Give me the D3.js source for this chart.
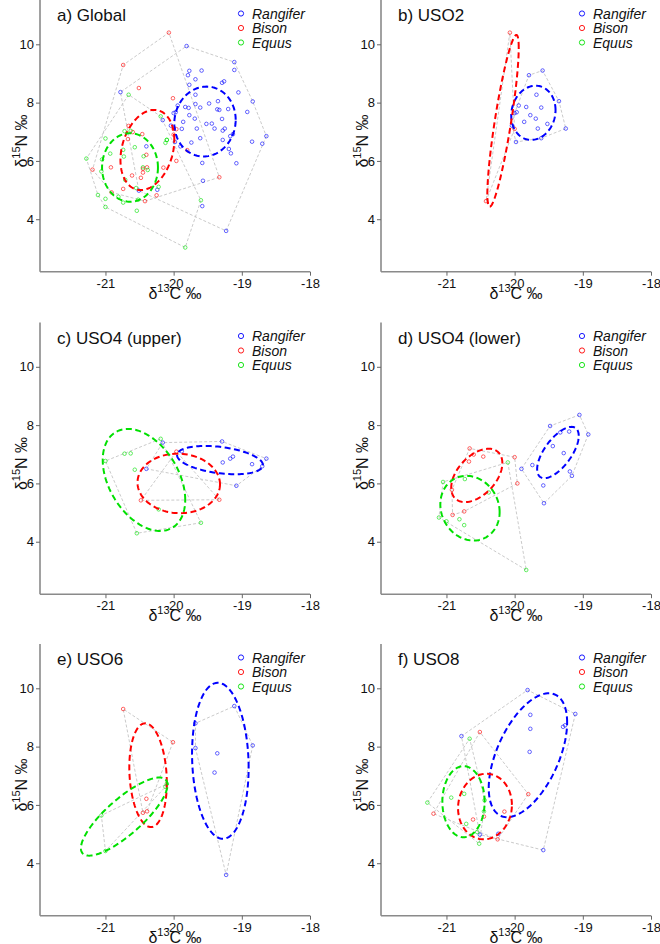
<!DOCTYPE html>
<html>
<head>
<meta charset="utf-8">
<script src="https://cdn.jsdelivr.net/npm/d3@7"></script>
<style>
  body { margin: 0; background: #fff; }
  svg { font-family: "Liberation Sans", Arial, sans-serif; }
</style>
</head>
<body>
<div id="chart"></div>
<script>
// species / colours / labels
var species = ["Rangifer", "Bison", "Equus"];
var speciesColors = ["#0000ff", "#ff0000", "#00e000"];
var panelTitles = ["a) Global", "b) USO2", "c) USO4 (upper)", "d) USO4 (lower)", "e) USO6", "f) USO8"];
var xTicks = [-21, -20, -19, -18];
var yTicks = [4, 6, 8, 10];

// d13C, d15N per site and species
var uso2Rangifer = [[-19.79,8.94],[-19.59,9.10],[-19.35,8.05],[-19.25,7.11],[-19.68,8.27],[-19.94,7.90],
  [-19.83,7.85],[-19.61,7.83],[-19.97,7.67],[-20.00,7.64],[-19.77,7.57],[-19.86,7.34],[-19.69,7.45],
  [-20.04,7.21],[-19.52,7.27],[-19.66,7.11],[-19.61,6.78],[-19.98,6.65]];
var uso2Bison = [[-20.07,10.40],[-20.42,4.62],[-20.00,7.10]];
var uso2Equus = [];

var uso4uRangifer = [[-20.16,7.40],[-19.29,7.44],[-20.40,6.50],[-19.88,7.10],[-19.28,6.72],[-19.17,6.85],
  [-19.13,6.92],[-18.85,6.66],[-18.70,6.59],[-18.64,6.85],[-19.08,5.92]];
var uso4uBison = [[-19.96,7.09],[-20.48,5.42],[-19.33,5.44]];
var uso4uEquus = [[-21.00,6.77],[-20.72,7.02],[-20.63,7.03],[-20.19,7.53],[-20.57,6.47],[-20.22,5.11],
  [-19.60,4.65],[-20.54,4.29]];

var uso4lRangifer = [[-19.05,8.35],[-18.92,7.68],[-19.48,7.97],[-19.33,7.75],[-19.20,7.78],[-19.44,7.28],
  [-19.28,7.04],[-19.74,6.63],[-19.90,6.50],[-19.19,6.41],[-19.16,6.26],[-19.58,5.93],[-19.57,5.32]];
var uso4lBison = [[-20.66,7.20],[-20.60,6.99],[-20.46,6.92],[-20.67,6.75],[-20.00,6.90],[-19.96,6.00],
  [-20.92,5.78],[-20.74,5.04],[-20.91,4.92]];
var uso4lEquus = [[-21.05,6.05],[-20.73,6.15],[-20.10,6.72],[-20.38,5.69],[-21.11,4.83],[-21.00,4.70],
  [-20.81,4.77],[-20.74,4.57],[-19.83,3.03]];

var uso6Rangifer = [[-19.11,9.39],[-19.68,8.80],[-18.84,8.04],[-19.68,7.95],[-19.36,7.77],[-19.40,7.11],[-19.23,3.60]];
var uso6Bison = [[-20.74,9.29],[-20.01,8.15],[-20.40,6.21],[-20.45,5.73],[-20.39,5.78]];
var uso6Equus = [[-21.06,5.64],[-21.00,4.42],[-20.10,6.72],[-20.12,6.62]];

var uso8Rangifer = [[-19.81,9.94],[-19.11,9.12],[-19.77,9.09],[-19.29,8.68],[-19.26,8.73],[-19.77,8.61],
  [-19.78,7.82],[-20.78,8.36],[-20.51,4.98],[-20.24,5.01],[-19.58,4.45]];
var uso8Bison = [[-20.51,8.50],[-19.80,6.37],[-20.15,5.77],[-20.61,5.50],[-21.19,5.70],[-20.45,5.60],[-20.25,4.82]];
var uso8Equus = [[-21.28,6.08],[-20.93,6.25],[-20.74,6.38],[-20.66,8.27],[-20.71,5.35],[-20.44,6.16],
  [-20.45,5.78],[-20.52,4.67],[-20.55,5.07]];

// standard ellipses: [centre C, centre N, sd C, sd N, correlation]
var ellGlobal = [[-19.54,7.35,0.45,1.20,0.05],[-20.385,6.375,0.395,1.375,0.25],[-20.64,5.775,0.41,1.175,0.0]];
var ellUso2 = [[-19.725,7.65,0.325,0.93,0.10],[-20.17,7.375,0.23,2.945,0.85],null];
var ellUso4u = [[-19.32,6.80,0.63,0.485,-0.35],[-19.925,6.00,0.605,1.02,-0.03],[-20.435,6.12,0.605,1.75,-0.39]];
var ellUso4l = [[-19.365,7.06,0.305,0.88,0.65],[-20.555,6.275,0.375,0.915,0.46],[-20.655,5.15,0.435,1.11,-0.12]];
var ellUso6 = [[-19.315,7.515,0.415,2.675,-0.09],[-20.375,7.02,0.275,1.78,-0.15],[-20.725,5.60,0.635,1.34,0.81]];
var ellUso8 = [[-19.805,7.705,0.575,2.125,0.53],[-20.435,5.945,0.395,1.125,0.05],[-20.75,6.11,0.31,1.22,0.0]];

var sites = [
  [uso2Rangifer, uso2Bison, uso2Equus],
  [uso4uRangifer, uso4uBison, uso4uEquus],
  [uso4lRangifer, uso4lBison, uso4lEquus],
  [uso6Rangifer, uso6Bison, uso6Equus],
  [uso8Rangifer, uso8Bison, uso8Equus]
];
var globalData = species.map(function(s, i) {
  return [].concat.apply([], sites.map(function(site) { return site[i]; }));
});
var panelData = [globalData].concat(sites);
var panelEll = [ellGlobal, ellUso2, ellUso4u, ellUso4l, ellUso6, ellUso8];

var svg = d3.select("#chart").append("svg")
  .attr("width", 660)
  .attr("height", 944);

var colLeft = [40, 381];
var rowTop = [0, 322.5, 644];
var pw = 270, ph = 271.7;
var fmt = function(d) { return String(d); };  // plain hyphen minus, like R

panelTitles.forEach(function(title, p) {
  var left = colLeft[p % 2], top = rowTop[Math.floor(p / 2)];
  var x = d3.scaleLinear().domain([-21.96, -18]).range([left, left + pw]);
  var y = d3.scaleLinear().domain([2.2, 11.52]).range([top + ph, top]);
  var g = svg.append("g");

  // axes
  var xAxis = g.append("g").attr("transform", "translate(0," + (top + ph) + ")")
    .call(d3.axisBottom(x).tickValues(xTicks).tickFormat(fmt).tickSize(4).tickPadding(3).tickSizeOuter(0));
  var yAxis = g.append("g").attr("transform", "translate(" + left + ",0)")
    .call(d3.axisLeft(y).tickValues(yTicks).tickFormat(fmt).tickSize(4).tickPadding(2).tickSizeOuter(0));
  [xAxis, yAxis].forEach(function(a) {
    a.select(".domain").attr("stroke", "#8a8a8a").attr("stroke-width", 1.6);
    a.selectAll(".tick line").attr("stroke", "#666");
    a.selectAll(".tick text").attr("fill", "#111").style("font-size", "13px")
      .style("font-family", "Liberation Sans, Arial, sans-serif");
  });
  yAxis.select(".domain").attr("d", "M0," + (top + ph) + "V" + top);
  xAxis.select(".domain").attr("d", "M" + left + ",0H" + (left + pw));

  // axis titles
  var xt = g.append("text")
    .attr("x", left + pw / 2).attr("y", top + ph + 27)
    .attr("text-anchor", "middle").style("font-size", "16px").attr("fill", "#111");
  xt.append("tspan").text("\u03b4");
  xt.append("tspan").attr("dy", -7).style("font-size", "11px").text("13");
  xt.append("tspan").attr("dy", 7).text("C \u2030");

  var yt = g.append("text")
    .attr("transform", "translate(" + (left - 13) + "," + (top + 141) + ") rotate(-90)")
    .attr("text-anchor", "middle").style("font-size", "16px").attr("fill", "#111");
  yt.append("tspan").text("\u03b4");
  yt.append("tspan").attr("dy", -7).style("font-size", "11px").text("15");
  yt.append("tspan").attr("dy", 7).text("N \u2030");

  var data = panelData[p];

  // convex hulls
  var lineFn = d3.line().x(function(d) { return x(d[0]); }).y(function(d) { return y(d[1]); })
    .curve(d3.curveLinearClosed);
  data.forEach(function(pts) {
    if (pts.length < 3) return;
    var hull = d3.polygonHull(pts);
    g.append("path").attr("d", lineFn(hull))
      .attr("fill", "none").attr("stroke", "#c4c4c4")
      .attr("stroke-width", 0.9).attr("stroke-dasharray", "3,2");
  });

  // points
  data.forEach(function(pts, i) {
    g.selectAll(null).data(pts).enter().append("circle")
      .attr("cx", function(d) { return x(d[0]); })
      .attr("cy", function(d) { return y(d[1]); })
      .attr("r", 1.8)
      .attr("fill", "none")
      .attr("stroke", speciesColors[i])
      .attr("stroke-opacity", 0.75)
      .attr("stroke-width", 0.8);
  });

  // ellipses
  panelEll[p].forEach(function(e, i) {
    if (!e) return;
    var k = Math.sqrt(1 - e[4] * e[4]);
    var ring = d3.range(0, 120).map(function(j) {
      var t = j / 120 * 2 * Math.PI;
      return [e[0] + e[2] * Math.cos(t), e[1] + e[3] * (e[4] * Math.cos(t) + k * Math.sin(t))];
    });
    g.append("path").attr("d", lineFn(ring))
      .attr("fill", "none").attr("stroke", speciesColors[i])
      .attr("stroke-width", 2).attr("stroke-dasharray", "6,3.5");
  });

  // title
  g.append("text").attr("x", left + 17).attr("y", top + 21)
    .style("font-size", "17px").attr("fill", "#111").text(title);

  // legend
  species.forEach(function(s, i) {
    var ly = top + 13.5 + i * 14.5;
    g.append("circle").attr("cx", left + 201).attr("cy", ly).attr("r", 2.6)
      .attr("fill", "none").attr("stroke", speciesColors[i]).attr("stroke-width", 0.9);
    g.append("text").attr("x", left + 212).attr("y", ly + 5)
      .style("font-size", "14px").style("font-style", "italic").attr("fill", "#111").text(s);
  });
});
</script>
</body>
</html>
